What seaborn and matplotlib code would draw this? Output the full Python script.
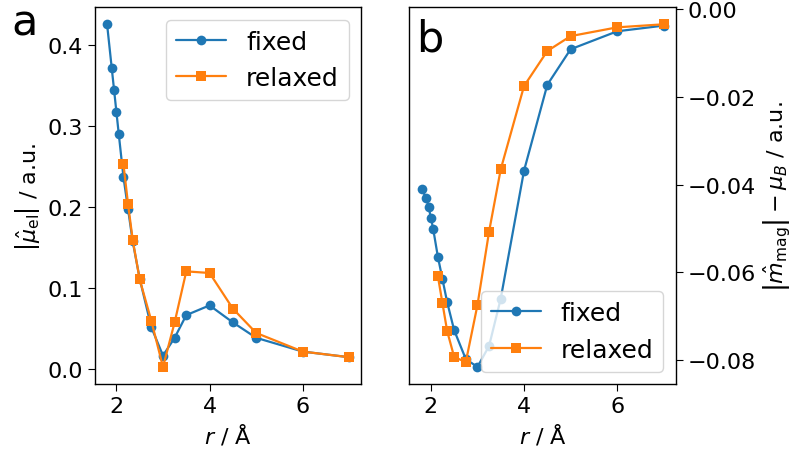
import matplotlib
matplotlib.use("Agg")
import matplotlib.pyplot as plt
import seaborn as sns
import pandas as pd

# Separation r (Å) for the two geometries
r_fixed = [1.8, 1.9, 1.95, 2.0, 2.05, 2.15, 2.25, 2.35, 2.5, 2.75,
           3.0, 3.25, 3.5, 4.0, 4.5, 5.0, 6.0, 7.0]
r_relaxed = [2.15, 2.25, 2.35, 2.5, 2.75, 3.0, 3.25, 3.5, 4.0, 4.5,
             5.0, 6.0, 7.0]

# Electric dipole magnitude |mu_el| (a.u.)
mu_fixed = [0.426, 0.372, 0.345, 0.318, 0.291, 0.238, 0.198, 0.158, 0.112,
            0.052, 0.017, 0.039, 0.067, 0.079, 0.058, 0.039, 0.022, 0.015]
mu_relaxed = [0.254, 0.204, 0.160, 0.111, 0.060, 0.003, 0.058, 0.121,
              0.119, 0.075, 0.045, 0.022, 0.015]

# Magnetic moment deviation |m_mag| - mu_B (a.u.)
m_fixed = [-0.0410, -0.0430, -0.0450, -0.0475, -0.0501, -0.0564, -0.0616,
           -0.0668, -0.0732, -0.0798, -0.0816, -0.0768, -0.0660, -0.0368,
           -0.0172, -0.0091, -0.0050, -0.0037]
m_relaxed = [-0.0608, -0.0671, -0.0734, -0.0793, -0.0805, -0.0675, -0.0507,
             -0.0365, -0.0175, -0.0095, -0.0061, -0.0041, -0.0034]

series_labels = ["fixed", "relaxed"]

sns.set_style("ticks")
plt.rcParams.update({
    "font.family": ["DejaVu Sans"],
    "font.size": 16,
    "axes.edgecolor": "black",
    "text.color": "black",
    "axes.labelcolor": "black",
    "xtick.color": "black",
    "ytick.color": "black",
    "mathtext.fontset": "dejavusans",
})

blue, orange = sns.color_palette("tab10")[:2]

fig, (ax_a, ax_b) = plt.subplots(1, 2, figsize=(7.98, 4.52), dpi=100)
fig.subplots_adjust(left=0.119, right=0.847, bottom=0.148, top=0.982,
                    wspace=0.18)

df_fixed = pd.DataFrame({"r": r_fixed, "mu": mu_fixed, "m": m_fixed})
df_relaxed = pd.DataFrame({"r": r_relaxed, "mu": mu_relaxed, "m": m_relaxed})

style = dict(linewidth=1.6, markersize=7, markeredgewidth=0)

# Panel a: electric dipole
sns.lineplot(data=df_fixed, x="r", y="mu", ax=ax_a, color=blue, marker="o",
             label=series_labels[0], **style)
sns.lineplot(data=df_relaxed, x="r", y="mu", ax=ax_a, color=orange,
             marker="s", label=series_labels[1], **style)
ax_a.set_xlabel(r"$r$ / Å")
ax_a.set_ylabel(r"$\left|\hat{\mu}_{\mathrm{el}}\right|$ / a.u.")
ax_a.legend(loc="upper right", fontsize=18, handlelength=2.0)

# Panel b: magnetic moment
sns.lineplot(data=df_fixed, x="r", y="m", ax=ax_b, color=blue, marker="o",
             label=series_labels[0], **style)
sns.lineplot(data=df_relaxed, x="r", y="m", ax=ax_b, color=orange,
             marker="s", label=series_labels[1], **style)
ax_b.set_xlabel(r"$r$ / Å")
ax_b.yaxis.tick_right()
ax_b.yaxis.set_label_position("right")
ax_b.set_ylabel(r"$\left|\hat{m}_{\mathrm{mag}}\right| - \mu_B$ / a.u.")
ax_b.legend(loc="lower right", fontsize=18, handlelength=2.0)

for ax in (ax_a, ax_b):
    ax.set_xticks([2, 4, 6])
    ax.tick_params(labelsize=16, length=5)
    for s in ax.spines.values():
        s.set_linewidth(1.0)

fig.text(11 / 798, 1 - 36 / 452, "a", fontsize=31, va="baseline")
fig.text(416 / 798, 1 - 52 / 452, "b", fontsize=31, va="baseline")

fig.savefig("out.png", dpi=100)
